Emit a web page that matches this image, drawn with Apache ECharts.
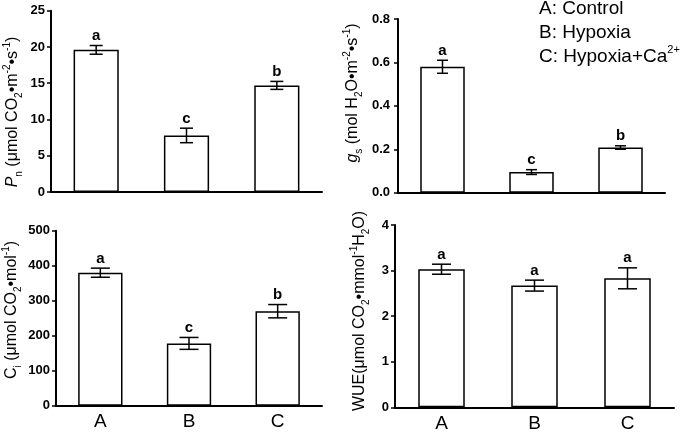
<!DOCTYPE html>
<html><head><meta charset="utf-8">
<script src="https://cdn.jsdelivr.net/npm/echarts@6/dist/echarts.min.js"></script>
<style>html,body{margin:0;padding:0;background:#fff}#c{width:685px;height:432px}</style>
</head><body><div id="c"></div>
<script>
// ---- data ----
const categories = ['A', 'B', 'C'];
const pnMean = [19.6, 7.8, 14.7];
const pnErr = [0.6, 1.0, 0.55];
const pnLetters = ['a', 'c', 'b'];
const gsMean = [0.58, 0.095, 0.208];
const gsErr = [0.03, 0.011, 0.008];
const gsLetters = ['a', 'c', 'b'];
const ciMean = [380, 178, 270];
const ciErr = [13, 17, 19];
const ciLetters = ['a', 'c', 'b'];
const wueMean = [3.03, 2.67, 2.83];
const wueErr = [0.11, 0.12, 0.23];
const wueLetters = ['a', 'a', 'a'];
// y axis ranges [min, max, interval]
const pnRange = [0, 25, 5];
const gsRange = [0, 0.8, 0.2];
const ciRange = [0, 500, 100];
const wueRange = [0, 4, 1];
const legendLines = ['A: Control', 'B: Hypoxia', 'C: Hypoxia+Ca'];

const FF = "'Liberation Sans', Arial, Helvetica, sans-serif";
const panels = [
  {mean: pnMean, err: pnErr, letters: pnLetters, range: pnRange, grid: {left: 51, top: 10.7, width: 271, height: 181.3}, cap: 13, showX: false, lblMargin: 6, fmt: v => String(v)},
  {mean: gsMean, err: gsErr, letters: gsLetters, range: gsRange, grid: {left: 398, top: 19, width: 267, height: 173.7}, cap: 11, showX: false, lblMargin: 8, fmt: v => v.toFixed(1)},
  {mean: ciMean, err: ciErr, letters: ciLetters, range: ciRange, grid: {left: 56, top: 230.7, width: 266, height: 175}, cap: 19, showX: true, lblMargin: 6, fmt: v => String(v)},
  {mean: wueMean, err: wueErr, letters: wueLetters, range: wueRange, grid: {left: 395, top: 225, width: 279, height: 182.3}, cap: 19, showX: true, lblMargin: 6, fmt: v => String(v)}
];

function errRender(p) {
  return function (params, api) {
    const i = params.dataIndex;
    const x = api.coord([i, p.mean[i]])[0];
    const yTop = api.coord([i, p.mean[i] + p.err[i]])[1];
    const yBot = api.coord([i, p.mean[i] - p.err[i]])[1];
    const st = {stroke: '#000', lineWidth: 1.5};
    const h = p.cap / 2;
    return {type: 'group', children: [
      {type: 'line', shape: {x1: x, y1: yTop, x2: x, y2: yBot}, style: st},
      {type: 'line', shape: {x1: x - h, y1: yTop, x2: x + h, y2: yTop}, style: st},
      {type: 'line', shape: {x1: x - h, y1: yBot, x2: x + h, y2: yBot}, style: st},
      {type: 'text', x: x, y: yTop - 2, style: {text: p.letters[i], textAlign: 'center', textVerticalAlign: 'bottom', font: 'bold 15px ' + FF, fill: '#000'}}
    ]};
  };
}

const grid = [], xAxis = [], yAxis = [], series = [];
panels.forEach((p, k) => {
  grid.push(Object.assign({containLabel: false, outerBoundsMode: 'none'}, p.grid));
  xAxis.push({type: 'category', gridIndex: k, data: categories,
    axisLine: {show: true, lineStyle: {color: '#000', width: 2}},
    axisTick: {show: false},
    axisLabel: {show: p.showX, fontFamily: FF, fontSize: 19, color: '#000', margin: 7}});
  yAxis.push({type: 'value', gridIndex: k, min: p.range[0], max: p.range[1], interval: p.range[2],
    axisLine: {show: true, lineStyle: {color: '#000', width: 2}},
    axisTick: {show: true, length: 4, lineStyle: {color: '#000', width: 1.5}},
    splitLine: {show: false},
    axisLabel: {fontFamily: FF, fontWeight: 'bold', fontSize: 13, color: '#000', margin: p.lblMargin, formatter: p.fmt}});
  series.push({type: 'bar', xAxisIndex: k, yAxisIndex: k, data: p.mean, barWidth: '50%',
    itemStyle: {color: '#fff', borderColor: '#000', borderWidth: 1.5}, silent: true});
  series.push({type: 'custom', xAxisIndex: k, yAxisIndex: k, clip: false,
    data: p.mean.map((m, i) => [i, m]), encode: {x: 0, y: 1}, renderItem: errRender(p), z: 5});
});

const rich = {
  i: {fontFamily: FF, fontSize: 16, fontStyle: 'italic', fill: '#000', lineHeight: 22},
  n: {fontFamily: FF, fontSize: 16, fill: '#000', lineHeight: 22},
  sub: {fontFamily: FF, fontSize: 10, fill: '#000', verticalAlign: 'bottom', lineHeight: 12},
  sup: {fontFamily: FF, fontSize: 10, fill: '#000', verticalAlign: 'top', lineHeight: 12}
};
function axisName(x, y, text) {
  return {type: 'text', x: x, y: y, rotation: Math.PI / 2,
    style: {text: text, rich: rich, textAlign: 'center', textVerticalAlign: 'middle', fill: '#000', font: '16px ' + FF}};
}
const legRich = {
  n: {fontFamily: FF, fontSize: 19, fill: '#000', lineHeight: 24},
  sup: {fontFamily: FF, fontSize: 11, fill: '#000', verticalAlign: 'top', lineHeight: 14}
};
const graphic = [
  axisName(13, 112, '{i|P}{sub|n}{n| (μmol CO}{sub|2}{n|•m}{sup|-2}{n|•s}{sup|-1}{n|)}'),
  axisName(353, 93, '{i|g}{sub|s}{n| (mol H}{sub|2}{n|O•m}{sup|-2}{n|•s}{sup|-1}{n|)}'),
  axisName(12, 310, '{n|C}{sub|i}{n| (μmol CO}{sub|2}{n|•mol}{sup|-1}{n|)}'),
  axisName(360, 311, '{n|WUE(μmol CO}{sub|2}{n|•mmol}{sup|-1}{n|H}{sub|2}{n|O)}'),
  {type: 'text', x: 539, y: 8.4, style: {text: '{n|' + legendLines[0] + '}', rich: legRich, textVerticalAlign: 'middle', font: '19px ' + FF}},
  {type: 'text', x: 539, y: 32.7, style: {text: '{n|' + legendLines[1] + '}', rich: legRich, textVerticalAlign: 'middle', font: '19px ' + FF}},
  {type: 'text', x: 539, y: 56.7, style: {text: '{n|' + legendLines[2] + '}{sup|2+}', rich: legRich, textVerticalAlign: 'middle', font: '19px ' + FF}}
];

const chart = echarts.init(document.getElementById('c'));
chart.setOption({animation: false, backgroundColor: '#fff', grid, xAxis, yAxis, series, graphic});
</script></body></html>
